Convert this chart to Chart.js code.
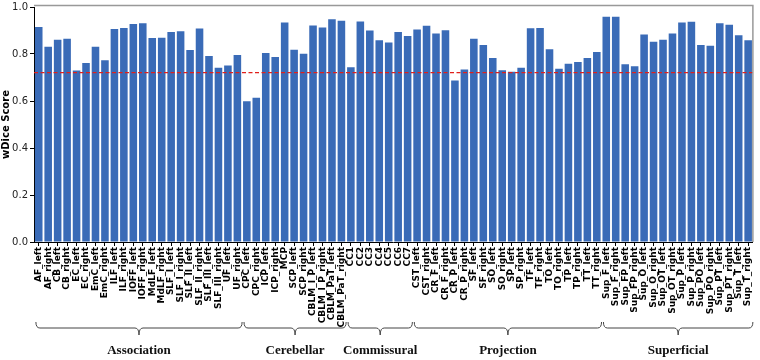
<!DOCTYPE html>
<html>
<head>
<meta charset="utf-8">
<script src="https://cdn.jsdelivr.net/npm/chart.js@4/dist/chart.umd.min.js"></script>
<style>
  html, body { margin: 0; padding: 0; background: #fff; }
  #wrap { width: 760px; height: 360px; }
</style>
</head>
<body>
<div id="wrap"><canvas id="chartDice" width="760" height="360"></canvas></div>
<script>
const tracts = [
    'AF_left', 'AF_right', 'CB_left', 'CB_right', 'EC_left', 'EC_right', 'EmC_left', 'EmC_right',
    'ILF_left', 'ILF_right', 'IOFF_left', 'IOFF_right', 'MdLF_left', 'MdLF_right',
    'SLF_I_left', 'SLF_I_right', 'SLF_II_left', 'SLF_II_right', 'SLF_III_left', 'SLF_III_right',
    'UF_left', 'UF_right',
    'CPC_left', 'CPC_right', 'ICP_left', 'ICP_right', 'MCP', 'SCP_left', 'SCP_right',
    'CBLM_I_P_left', 'CBLM_I_P_right', 'CBLM_PaT_left', 'CBLM_PaT_right',
    'CC1', 'CC2', 'CC3', 'CC4', 'CC5', 'CC6', 'CC7',
    'CST_left', 'CST_right', 'CR_F_left', 'CR_F_right', 'CR_P_left', 'CR_P_right',
    'SF_left', 'SF_right', 'SO_left', 'SO_right', 'SP_left', 'SP_right',
    'TF_left', 'TF_right', 'TO_left', 'TO_right', 'TP_left', 'TP_right', 'TT_left', 'TT_right',
    'Sup_F_left', 'Sup_F_right', 'Sup_FP_left', 'Sup_FP_right', 'Sup_O_left', 'Sup_O_right',
    'Sup_OT_left', 'Sup_OT_right', 'Sup_P_left', 'Sup_P_right', 'Sup_PO_left', 'Sup_PO_right',
    'Sup_PT_left', 'Sup_PT_right', 'Sup_T_left', 'Sup_T_right'
];

const wdice = [
    0.915, 0.831, 0.861, 0.865, 0.730, 0.762, 0.831, 0.773,
    0.906, 0.911, 0.928, 0.931, 0.868, 0.869,
    0.894, 0.897, 0.817, 0.908, 0.792, 0.742,
    0.751, 0.796,
    0.599, 0.614, 0.804, 0.787, 0.934, 0.818, 0.801,
    0.921, 0.913, 0.948, 0.942,
    0.744, 0.938, 0.900, 0.858, 0.849, 0.894, 0.877,
    0.904, 0.920, 0.887, 0.901, 0.687, 0.734,
    0.865, 0.838, 0.783, 0.731, 0.725, 0.741,
    0.910, 0.911, 0.820, 0.737, 0.758, 0.766, 0.783, 0.809,
    0.959, 0.958, 0.756, 0.748, 0.883, 0.852,
    0.861, 0.887, 0.934, 0.937, 0.838, 0.835,
    0.931, 0.924, 0.880, 0.858
];

// groups: name, first tract, last tract
const groupNames = ['Association', 'Cerebellar', 'Commissural', 'Projection', 'Superficial'];
const groupFirst = ['AF_left', 'CPC_left', 'CC1', 'CST_left', 'Sup_F_left'];
const groupLast = ['UF_right', 'CBLM_PaT_right', 'CC7', 'TT_right', 'Sup_T_right'];

const meanLine = 0.721;
const yTicks = [0, 0.2, 0.4, 0.6, 0.8, 1.0];

// red dashed mean line + grey top/right frame
const overlayPlugin = {
    id: 'overlay',
    afterDatasetsDraw(chart) {
        const ctx = chart.ctx;
        const a = chart.chartArea;
        const y = chart.scales.y.getPixelForValue(meanLine);
        ctx.save();
        ctx.strokeStyle = '#e0201b';
        ctx.lineWidth = 1.2;
        ctx.setLineDash([4, 2.5]);
        ctx.beginPath();
        ctx.moveTo(a.left, y);
        ctx.lineTo(a.right, y);
        ctx.stroke();
        ctx.setLineDash([]);
        ctx.strokeStyle = '#999';
        ctx.lineWidth = 1.5;
        ctx.beginPath();
        ctx.moveTo(a.left, a.top - 1.5);
        ctx.lineTo(a.right, a.top - 1.5);
        ctx.lineTo(a.right, a.bottom);
        ctx.stroke();
        ctx.restore();
    }
};

// curly braces under the tick labels with group names
const bracePlugin = {
    id: 'braces',
    afterDraw(chart) {
        const ctx = chart.ctx;
        const xs = chart.scales.x;
        const w = xs.width / tracts.length;
        const y0 = 322, y1 = 328, y2 = 335;
        ctx.save();
        ctx.strokeStyle = '#444';
        ctx.lineWidth = 1;
        ctx.fillStyle = '#111';
        ctx.font = 'bold 13px "Liberation Serif", serif';
        ctx.textAlign = 'center';
        ctx.textBaseline = 'middle';
        for (let i = 0; i < groupNames.length; i++) {
            const x1 = xs.getPixelForValue(tracts.indexOf(groupFirst[i])) - 0.3 * w;
            const x2 = xs.getPixelForValue(tracts.indexOf(groupLast[i])) + 0.5 * w;
            const xm = (x1 + x2) / 2;
            ctx.beginPath();
            ctx.moveTo(x1, y0);
            ctx.quadraticCurveTo(x1, y1, x1 + 4, y1);
            ctx.lineTo(xm - 4, y1);
            ctx.quadraticCurveTo(xm, y1, xm, y2);
            ctx.quadraticCurveTo(xm, y1, xm + 4, y1);
            ctx.lineTo(x2 - 4, y1);
            ctx.quadraticCurveTo(x2, y1, x2, y0);
            ctx.stroke();
            ctx.fillText(groupNames[i], xm, 351);
        }
        ctx.restore();
    }
};

renderChart();

function renderChart() {
    const data = {
        labels: tracts,
        datasets: [{
            label: 'wDice',
            data: wdice,
            backgroundColor: '#3a6bb7',
            borderWidth: 0,
            categoryPercentage: 1.0,
            barPercentage: 0.8
        }]
    };
    const config = {
        type: 'bar',
        data: data,
        options: {
            responsive: false,
            animation: false,
            layout: { padding: { top: 0, right: 7, bottom: 0, left: 0 } },
            plugins: {
                legend: { display: false },
                tooltip: { enabled: false }
            },
            scales: {
                x: {
                    offset: true,
                    afterFit(scale) { scale.height = 118; },
                    grid: { drawOnChartArea: false, drawTicks: true, tickLength: 4, color: '#000', offset: false },
                    border: { color: '#000', width: 1 },
                    ticks: {
                        autoSkip: false,
                        maxRotation: 90,
                        minRotation: 90,
                        padding: 1,
                        color: '#000',
                        font: { family: '"DejaVu Sans", sans-serif', size: 9, weight: 'bold' }
                    }
                },
                y: {
                    min: 0,
                    max: 1.0,
                    afterFit(scale) { scale.width = 34; },
                    afterBuildTicks(scale) { scale.ticks = yTicks.map(v => ({ value: v })); },
                    grid: { drawOnChartArea: false, drawTicks: true, tickLength: 4, color: '#000' },
                    border: { color: '#000', width: 1 },
                    title: {
                        display: true,
                        text: 'wDice Score',
                        color: '#000',
                        padding: { top: 0, bottom: 2 },
                        font: { family: '"DejaVu Sans", sans-serif', size: 10, weight: 'bold' }
                    },
                    ticks: {
                        padding: 2,
                        color: '#222',
                        font: { family: '"DejaVu Sans", sans-serif', size: 10, lineHeight: 1.0 },
                        callback: v => Number(v).toFixed(1)
                    }
                }
            }
        },
        plugins: [overlayPlugin, bracePlugin]
    };
    new Chart(document.getElementById('chartDice'), config);
}
</script>
</body>
</html>
